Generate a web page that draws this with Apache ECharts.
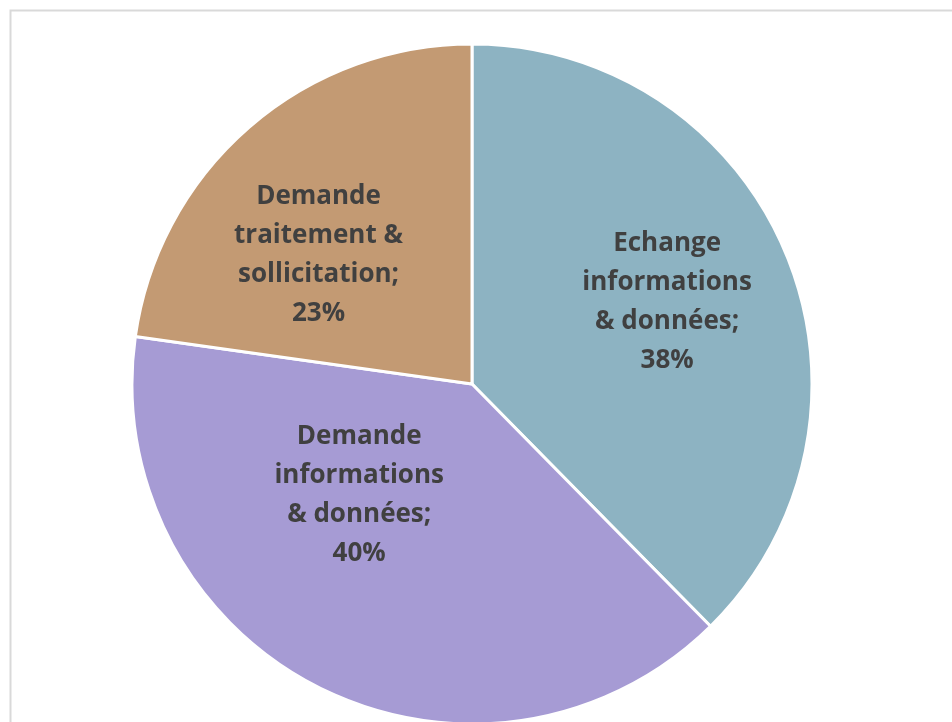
<!DOCTYPE html>
<html><head><meta charset="utf-8">
<script src="https://cdn.jsdelivr.net/npm/echarts@6/dist/echarts.min.js"></script>
<style>html,body{margin:0;padding:0;background:#fff}#c{width:952px;height:722px}</style>
</head><body><div id="c"></div>
<script>
const categories = ['Echange informations\n& données', 'Demande\ninformations\n& données', 'Demande\ntraitement &\nsollicitation'];
const labelNames = ['Echange\ninformations\n& données', 'Demande\ninformations\n& données', 'Demande\ntraitement &\nsollicitation'];
const values = [38, 40, 23];
const colors = ['#8DB3C2', '#A69BD4', '#C39A73'];
const labelOffsets = [[35, -16], [-35, -43], [-40, 2]];

const chart = echarts.init(document.getElementById('c'));
chart.setOption({
  animation: false,
  graphic: [{
    type: 'rect', left: 8, top: 8, shape: {width: 1000, height: 800},
    style: {fill: 'none', stroke: '#d9d9d9', lineWidth: 2}, silent: true, z: -1
  }],
  series: [{
    type: 'pie',
    center: [472, 384],
    radius: 340,
    startAngle: 90,
    clockwise: true,
    itemStyle: {borderColor: '#fff', borderWidth: 3},
    label: {
      position: 'inside',
      fontFamily: 'Open Sans',
      fontWeight: 'bold',
      fontSize: 26,
      lineHeight: 39,
      color: '#404040',
      align: 'center'
    },
    labelLine: {show: false},
    data: categories.map((c, i) => ({
      name: c,
      value: values[i],
      itemStyle: {color: colors[i]},
      label: {formatter: labelNames[i] + ';\n' + values[i] + '%', offset: labelOffsets[i]}
    }))
  }]
});
</script></body></html>
